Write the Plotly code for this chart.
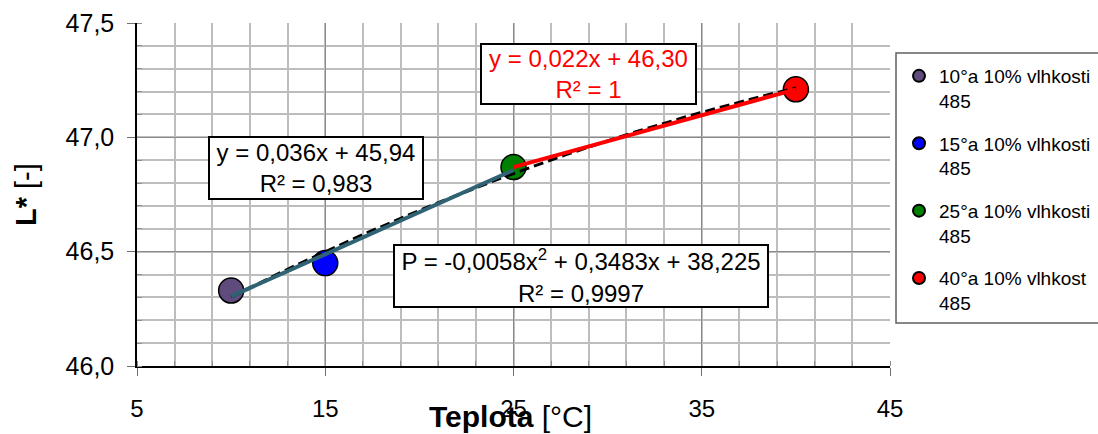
import numpy as np
import plotly.graph_objects as go

# ---- data ----
temps = [10, 15, 25, 40]
lightness = [46.33, 46.45, 46.87, 47.21]
series_names = [
    "10°a 10% vlhkosti<br>485",
    "15°a 10% vlhkosti<br>485",
    "25°a 10% vlhkosti<br>485",
    "40°a 10% vlhkost<br>485",
]
marker_colors = ["#5F4B7C", "#0000FF", "#008000", "#FF0000"]
eq_low = "y = 0,036x + 45,94<br>R² = 0,983"
eq_high = "y = 0,022x + 46,30<br>R² = 1"
eq_poly = "P = -0,0058x<sup>2</sup> + 0,3483x + 38,225<br>R² = 0,9997"
x_ticks = [5, 15, 25, 35, 45]
y_ticks = [46.0, 46.5, 47.0, 47.5]
y_ticktext = ["46,0", "46,5", "47,0", "47,5"]

FONT = "Arial, Liberation Sans, sans-serif"

# ---- trendlines computed from the data ----
t = np.array(temps, dtype=float)
L = np.array(lightness, dtype=float)
lo = np.polyfit(t[:3], L[:3], 1)
hi = np.polyfit(t[2:], L[2:], 1)
quad = np.polyfit(t, L, 2)
xq = np.linspace(t.min(), t.max(), 60)

fig = go.Figure()

for xi, yi, nm, c in zip(temps, lightness, series_names, marker_colors):
    fig.add_trace(go.Scatter(
        x=[xi], y=[yi], mode="markers", name=nm, legendgroup=nm,
        marker=dict(size=25, color=c, line=dict(color="black", width=1.5)),
    ))

fig.add_trace(go.Scatter(
    x=xq, y=np.polyval(quad, xq), mode="lines", showlegend=False,
    line=dict(color="black", width=3, dash="10px,5px"),
))
fig.add_trace(go.Scatter(
    x=[t[0], t[2]], y=np.polyval(lo, [t[0], t[2]]), mode="lines", showlegend=False,
    line=dict(color="#2F6272", width=4),
))
fig.add_trace(go.Scatter(
    x=[t[2], t[3]], y=np.polyval(hi, [t[2], t[3]]), mode="lines", showlegend=False,
    line=dict(color="#FF0000", width=4),
))

L_PX, R_PX, T_PX, B_PX = 137, 890, 23, 366
W, H = 1098, 434

def px(xp):
    return (xp - L_PX) / (R_PX - L_PX)

def py(yp):
    return (B_PX - yp) / (B_PX - T_PX)

box = dict(bgcolor="white", bordercolor="black", borderwidth=2, borderpad=1,
           showarrow=False, xref="paper", yref="paper", xanchor="center", yanchor="middle")

annotations = [
    dict(text=eq_low, x=px(316), y=py(168), width=210, height=58,
         font=dict(family=FONT, size=24, color="black"), **box),
    dict(text=eq_high, x=px(588.5), y=py(74), width=211, height=56,
         font=dict(family=FONT, size=24, color="#FF0000"), **box),
    dict(text=eq_poly, x=px(581), y=py(276), width=370, height=58,
         font=dict(family=FONT, size=24, color="black"), **box),
    dict(text="<b>L*</b> [-]", x=px(26), y=py(195), textangle=-90, showarrow=False,
         xref="paper", yref="paper", xanchor="center", yanchor="middle",
         font=dict(family=FONT, size=29, color="black")),
    dict(text="<b>Teplota</b> [°C]", x=px(510), y=py(416), showarrow=False,
         xref="paper", yref="paper", xanchor="center", yanchor="middle",
         font=dict(family=FONT, size=30, color="black")),
]

shapes = [
    dict(type="rect", xref="paper", yref="paper",
         x0=px(896), x1=px(1105), y0=py(323), y1=py(53),
         line=dict(color="#606060", width=1.5), fillcolor="rgba(0,0,0,0)", layer="below"),
]

fig.update_layout(
    width=W, height=H,
    margin=dict(l=L_PX, r=W - R_PX, t=T_PX, b=H - B_PX, autoexpand=False),
    paper_bgcolor="white", plot_bgcolor="white",
    font=dict(family=FONT, size=24, color="black"),
    showlegend=True,
    legend=dict(x=px(899), y=py(57), xanchor="left", yanchor="top",
                font=dict(family=FONT, size=19, color="black"),
                bgcolor="rgba(0,0,0,0)", borderwidth=0,
                valign="top", tracegroupgap=15, itemsizing="constant",
                traceorder="grouped"),
    annotations=annotations,
    shapes=shapes,
)

fig.update_xaxes(
    range=[5, 45], tickmode="array", tickvals=x_ticks, ticktext=[str(v) for v in x_ticks],
    showgrid=True, gridcolor="#8A8A8A", gridwidth=1.3,
    showline=True, linecolor="black", linewidth=1.5,
    ticks="outside", ticklen=8, tickcolor="#707070", tickwidth=1,
    ticklabelstandoff=12, zeroline=False,
    tickfont=dict(family=FONT, size=24, color="black"),
    minor=dict(dtick=2, tick0=5, showgrid=True, gridcolor="#BDBDBD", gridwidth=1.5,
               ticks="inside", ticklen=5, tickcolor="#909090"),
)
fig.update_yaxes(
    range=[46.0, 47.5], tickmode="array", tickvals=y_ticks, ticktext=y_ticktext,
    showgrid=True, gridcolor="#8A8A8A", gridwidth=1.3,
    showline=True, linecolor="black", linewidth=1.5,
    ticks="outside", ticklen=8, tickcolor="#707070", tickwidth=1,
    ticklabelstandoff=8, zeroline=False,
    tickfont=dict(family=FONT, size=25, color="black"),
    minor=dict(dtick=0.1, tick0=46.0, showgrid=True, gridcolor="#BDBDBD", gridwidth=1.5,
               ticks="inside", ticklen=5, tickcolor="#909090"),
)

fig.write_html("out.html")
